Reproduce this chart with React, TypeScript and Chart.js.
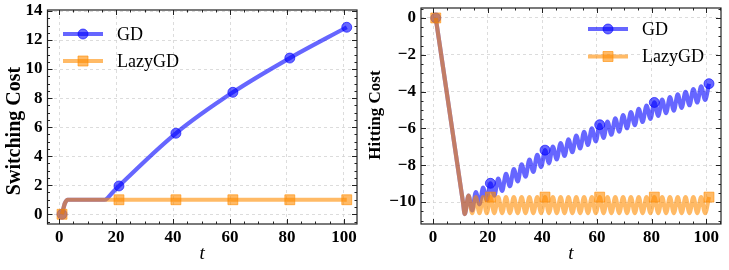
import React, { useEffect, useRef } from "react";
import { Chart, registerables } from "chart.js";

Chart.register(...registerables);

const FONT = "'Liberation Serif', 'Times New Roman', serif";

// ---- shared ----
const markerT = [1, 21, 41, 61, 81, 101];
const xTicks = [0, 20, 40, 60, 80, 100];
const switchTicks = [0, 2, 4, 6, 8, 10, 12, 14];
const hitTicks = [0, -2, -4, -6, -8, -10];
const seriesNames = ["GD", "LazyGD"];

// ---- Switching cost ----
const switchGD_t = [1, 2, 3, 16, 17, 19, 21, 41, 61, 81, 101];
const switchGD_y = [0, 0.75, 1.0, 1.0, 1.12, 1.55, 1.95, 5.58, 8.4, 10.76, 12.88];
const switchLazy_t = [1, 2, 3, 21, 41, 61, 81, 101];
const switchLazy_y = [0, 0.75, 1.0, 1.0, 1.0, 1.0, 1.0, 1.0];

// ---- Hitting cost ----
const hitT = [
  1, 11, 11.6, 13, 14.33, 15.67, 17, 18.33, 19.67, 21,
  22.43, 23.86, 25.29, 26.71, 28.14, 29.57, 31, 32.43, 33.86, 35.29, 36.71, 38.14, 39.57, 41,
  42.43, 43.86, 45.29, 46.71, 48.14, 49.57, 51, 52.43, 53.86, 55.29, 56.71, 58.14, 59.57, 61,
  62.43, 63.86, 65.29, 66.71, 68.14, 69.57, 71, 72.43, 73.86, 75.29, 76.71, 78.14, 79.57, 81,
  82.43, 83.86, 85.29, 86.71, 88.14, 89.57, 91, 92.43, 93.86, 95.29, 96.71, 98.14, 99.57, 101,
];
const hitGD = [
  0, -10.05, -10.65, -9.65, -10.45, -9.46, -10.12, -9.22, -9.9, -8.98,
  -9.65, -8.72, -9.39, -8.47, -9.14, -8.21, -8.88, -7.95, -8.62, -7.69, -8.36, -7.43, -8.1, -7.18,
  -7.88, -6.98, -7.68, -6.79, -7.49, -6.59, -7.29, -6.39, -7.09, -6.19, -6.9, -6.0, -6.7, -5.8,
  -6.51, -5.63, -6.34, -5.45, -6.17, -5.28, -5.99, -5.11, -5.82, -4.94, -5.65, -4.76, -5.48, -4.59,
  -5.32, -4.44, -5.17, -4.3, -5.03, -4.15, -4.88, -4.01, -4.74, -3.86, -4.59, -3.72, -4.45, -3.57,
];
const hitLazy = [
  0, -10.05, -10.65, -9.65, -10.6, -9.73, -10.6, -9.73, -10.6, -9.73,
  -10.6, -9.73, -10.6, -9.73, -10.6, -9.73, -10.6, -9.73, -10.6, -9.73, -10.6, -9.73, -10.6, -9.73,
  -10.6, -9.73, -10.6, -9.73, -10.6, -9.73, -10.6, -9.73, -10.6, -9.73, -10.6, -9.73, -10.6, -9.73,
  -10.6, -9.73, -10.6, -9.73, -10.6, -9.73, -10.6, -9.73, -10.6, -9.73, -10.6, -9.73, -10.6, -9.73,
  -10.6, -9.73, -10.6, -9.73, -10.6, -9.73, -10.6, -9.73, -10.6, -9.73, -10.6, -9.73, -10.6, -9.73,
];

const BLUE = "rgba(0,0,255,0.6)";
const ORANGE = "rgba(255,140,0,0.6)";
const LINE_W = 4.2;

function pts(t: number[], y: number[]) {
  return t.map((x, i) => ({ x, y: y[i] }));
}

function fmt(v: number) {
  return v < 0 ? "\u2212" + Math.abs(v) : String(v);
}

function drawMarker(ctx: CanvasRenderingContext2D, style: string, x: number, y: number, color: string) {
  ctx.fillStyle = color;
  ctx.strokeStyle = color;
  ctx.lineWidth = 1;
  ctx.beginPath();
  if (style === "circle") {
    ctx.arc(x, y, 5, 0, Math.PI * 2);
  } else {
    ctx.rect(x - 5, y - 5, 10, 10);
  }
  ctx.fill();
  ctx.stroke();
}

function makeLegend(x0: number, y0: number, gap: number) {
  return {
    id: "customLegend",
    afterDraw(chart: any) {
      const ctx: CanvasRenderingContext2D = chart.ctx;
      const items = [
        { label: seriesNames[0], color: BLUE, style: "circle" },
        { label: seriesNames[1], color: ORANGE, style: "rect" },
      ];
      items.forEach((it, i) => {
        const cy = y0 + i * gap;
        ctx.save();
        ctx.strokeStyle = it.color;
        ctx.lineWidth = LINE_W;
        ctx.beginPath();
        ctx.moveTo(x0, cy);
        ctx.lineTo(x0 + 40, cy);
        ctx.stroke();
        drawMarker(ctx, it.style, x0 + 20, cy, it.color);
        ctx.fillStyle = "#000";
        ctx.font = `18px ${FONT}`;
        ctx.textBaseline = "middle";
        ctx.textAlign = "left";
        ctx.fillText(it.label, x0 + 54, cy + 1);
        ctx.restore();
      });
    },
  };
}

function makeYTitle(text: string, cx: number, cy: number, size: number) {
  return {
    id: "yTitle",
    afterDraw(chart: any) {
      const ctx: CanvasRenderingContext2D = chart.ctx;
      ctx.save();
      ctx.translate(cx, cy);
      ctx.rotate(-Math.PI / 2);
      ctx.fillStyle = "#000";
      ctx.font = `bold ${size}px ${FONT}`;
      ctx.textAlign = "center";
      ctx.textBaseline = "middle";
      ctx.fillText(text, 0, 0);
      ctx.restore();
    },
  };
}

function makeFrame(yMinor: number, yMajor: number) {
  return {
    id: "frameTicks",
    afterDraw(chart: any) {
      const { ctx, chartArea: a, scales } = chart;
      const xs = scales.x;
      const ys = scales.y;
      ctx.save();
      ctx.strokeStyle = "#222";
      ctx.lineWidth = 1;
      ctx.beginPath();
      const start = Math.ceil(xs.min / 5) * 5;
      for (let v = start; v <= xs.max; v += 5) {
        const px = Math.round(xs.getPixelForValue(v)) + 0.5;
        const len = v % 20 === 0 ? 5 : 2.5;
        ctx.moveTo(px, a.bottom);
        ctx.lineTo(px, a.bottom - len);
        ctx.moveTo(px, a.top);
        ctx.lineTo(px, a.top + len);
      }
      const ys0 = Math.ceil(ys.min / yMinor) * yMinor;
      for (let v = ys0; v <= ys.max + 1e-9; v += yMinor) {
        const py = Math.round(ys.getPixelForValue(v)) + 0.5;
        const isMajor = Math.abs(v / yMajor - Math.round(v / yMajor)) < 1e-6;
        const len = isMajor ? 5 : 2.5;
        ctx.moveTo(a.left, py);
        ctx.lineTo(a.left + len, py);
        ctx.moveTo(a.right, py);
        ctx.lineTo(a.right - len, py);
      }
      ctx.stroke();
      ctx.lineWidth = 1.2;
      ctx.strokeStyle = "#222";
      ctx.strokeRect(a.left, a.top, a.right - a.left, a.bottom - a.top);
      ctx.restore();
    },
  };
}

function lineDataset(label: string, data: any[], color: string, style: string, order: number) {
  return {
    label,
    data,
    borderColor: color,
    backgroundColor: color,
    borderWidth: LINE_W,
    cubicInterpolationMode: "monotone" as const,
    pointStyle: style,
    pointRadius: (c: any) => (c.raw && markerT.includes(c.raw.x) ? (style === "rect" ? 7 : 5) : 0),
    pointBackgroundColor: color,
    pointBorderColor: color,
    pointBorderWidth: 1,
    order,
    fill: false,
  };
}

function buildConfig(p: {
  gd: any[];
  lazy: any[];
  xMin: number;
  xMax: number;
  yMin: number;
  yMax: number;
  yTicks: number[];
  yAxisWidth: number;
  pad: { left: number; right: number; top: number; bottom: number };
}) {
  return {
    type: "line" as const,
    data: {
      datasets: [
        lineDataset(seriesNames[0], p.gd, BLUE, "circle", 2),
        lineDataset(seriesNames[1], p.lazy, ORANGE, "rect", 1),
      ],
    },
    options: {
      animation: false as const,
      responsive: false,
      devicePixelRatio: 1,
      events: [],
      layout: { padding: p.pad },
      plugins: { legend: { display: false }, tooltip: { enabled: false } },
      scales: {
        x: {
          type: "linear" as const,
          min: p.xMin,
          max: p.xMax,
          afterBuildTicks: (s: any) => {
            s.ticks = xTicks.map((v) => ({ value: v }));
          },
          afterFit: (s: any) => {
            s.height = 46;
            s.paddingLeft = 0;
            s.paddingRight = 0;
          },
          ticks: {
            autoSkip: false,
            maxRotation: 0,
            padding: 3,
            color: "#000",
            font: { family: FONT, size: 17, weight: "bold" as const },
            callback: (v: any) => fmt(Number(v)),
          },
          grid: { color: "#d4d4d4", lineWidth: 0.8, drawTicks: false },
          border: { display: false, dash: [3, 3] },
          title: {
            display: true,
            text: "t",
            color: "#000",
            font: { family: FONT, size: 19, style: "italic" as const },
            padding: { top: 0, bottom: 5 },
          },
        },
        y: {
          type: "linear" as const,
          min: p.yMin,
          max: p.yMax,
          afterBuildTicks: (s: any) => {
            s.ticks = p.yTicks.map((v) => ({ value: v }));
          },
          afterFit: (s: any) => {
            s.width = p.yAxisWidth;
            s.paddingTop = 0;
            s.paddingBottom = 0;
          },
          ticks: {
            autoSkip: false,
            padding: 5,
            color: "#000",
            font: { family: FONT, size: 17, weight: "bold" as const },
            callback: (v: any) => fmt(Number(v)),
          },
          grid: { color: "#d4d4d4", lineWidth: 0.8, drawTicks: false },
          border: { display: false, dash: [3, 3] },
          title: { display: false },
        },
      },
    },
  };
}

function ChartPanel(props: { width: number; config: any; plugins: any[] }) {
  const ref = useRef<HTMLCanvasElement | null>(null);
  useEffect(() => {
    if (!ref.current) return;
    const chart = new Chart(ref.current, { ...props.config, plugins: props.plugins });
    return () => chart.destroy();
  }, []);
  return (
    <canvas
      ref={ref}
      width={props.width}
      height={270}
      style={{ width: props.width, height: 270, display: "block" }}
    />
  );
}

export default function App() {
  const leftConfig = buildConfig({
    gd: pts(switchGD_t, switchGD_y),
    lazy: pts(switchLazy_t, switchLazy_y),
    xMin: -4.1,
    xMax: 104.6,
    yMin: -0.67,
    yMax: 14.07,
    yTicks: switchTicks,
    yAxisWidth: 47.5,
    pad: { left: 0, right: 6, top: 10, bottom: 0 },
  });
  const rightConfig = buildConfig({
    gd: pts(hitT, hitGD),
    lazy: pts(hitT, hitLazy),
    xMin: -4.4,
    xMax: 105.4,
    yMin: -11.19,
    yMax: 0.54,
    yTicks: hitTicks,
    yAxisWidth: 56,
    pad: { left: 0, right: 7, top: 5, bottom: 0 },
  });
  return (
    <div style={{ position: "absolute", left: 0, top: 0, width: 729, height: 270, background: "#fff" }}>
      <div style={{ position: "absolute", left: 0, top: 0 }}>
        <ChartPanel
          width={365}
          config={leftConfig}
          plugins={[makeFrame(0.5, 2), makeLegend(63, 34, 27), makeYTitle("Switching Cost", 15, 131, 20)]}
        />
      </div>
      <div style={{ position: "absolute", left: 365, top: 0 }}>
        <ChartPanel
          width={364}
          config={rightConfig}
          plugins={[makeFrame(0.5, 2), makeLegend(223, 29, 27.5), makeYTitle("Hitting Cost", 11, 115, 17)]}
        />
      </div>
    </div>
  );
}
